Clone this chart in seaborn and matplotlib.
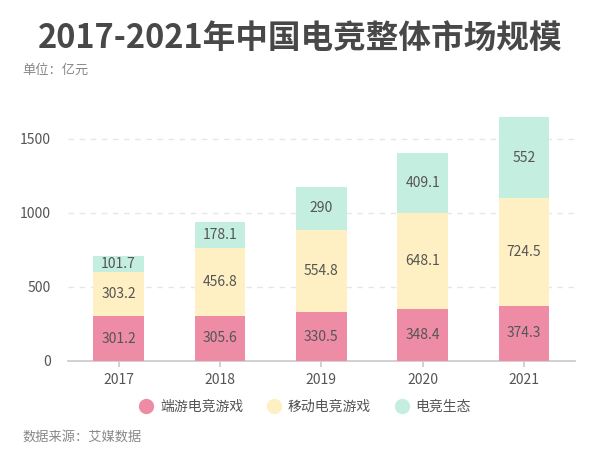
import matplotlib.pyplot as plt
import seaborn as sns
import numpy as np
from matplotlib.lines import Line2D

years = ['2017', '2018', '2019', '2020', '2021']
pc_games = [301.2, 305.6, 330.5, 348.4, 374.3]
mobile_games = [303.2, 456.8, 554.8, 648.1, 724.5]
ecosystem = [101.7, 178.1, 290, 409.1, 552]
series_names = ['端游电竞游戏', '移动电竞游戏', '电竞生态']
colors = ['#EE8CA6', '#FEF0C2', '#C4EEDF']

sns.set_theme(style='white')
plt.rcParams['font.family'] = ['Noto Sans CJK SC', 'DejaVu Sans']

fig = plt.figure(figsize=(6, 4.7), dpi=100)
ax = fig.add_axes([0.113, 0.232, 0.845, 0.551])

layers = [pc_games, mobile_games, ecosystem]
bottom = np.zeros(len(years))
for vals, col in zip(layers, colors):
    sns.barplot(x=years, y=vals, bottom=bottom, color=col, width=0.5,
                ax=ax, zorder=3, saturation=1, linewidth=0)
    for i, v in enumerate(vals):
        ax.text(i, bottom[i] + v / 2, f'{v:g}', ha='center', va='center',
                fontsize=10, color='#555555', zorder=4)
    bottom = bottom + np.array(vals)

ax.set_xlim(-0.5, 4.5)
ax.set_ylim(0, 1750)
ax.set_yticks([0, 500, 1000, 1500])
ax.yaxis.grid(True, linestyle=(0, (4, 4)), color='#E6E6E6', linewidth=1)
ax.set_axisbelow(True)
for s in ['top', 'right', 'left']:
    ax.spines[s].set_visible(False)
ax.spines['bottom'].set_color('#CCCCCC')
ax.tick_params(axis='y', length=0, labelsize=10, labelcolor='#555555', pad=12)
ax.tick_params(axis='x', length=4, color='#CCCCCC', labelsize=10,
               labelcolor='#555555', bottom=True, pad=5)

fig.text(0.5, 0.918, '2017-2021年中国电竞整体市场规模', ha='center', va='center',
         fontsize=23.5, fontweight='bold', color='#484848')
fig.text(0.037, 0.851, '单位：亿元', ha='left', va='center', fontsize=9.5, color='#888888')
fig.text(0.037, 0.07, '数据来源：艾媒数据', ha='left', va='center', fontsize=9.5, color='#888888')

handles = [Line2D([], [], marker='o', linestyle='', markersize=10,
                  markerfacecolor=c, markeredgecolor=c) for c in colors]
fig.legend(handles, series_names, loc='center', bbox_to_anchor=(0.505, 0.134),
           ncol=3, frameon=False, fontsize=10, handletextpad=0.2, columnspacing=1.4,
           handlelength=1.6, labelcolor='#555555')

fig.savefig('out.png', dpi=100)
